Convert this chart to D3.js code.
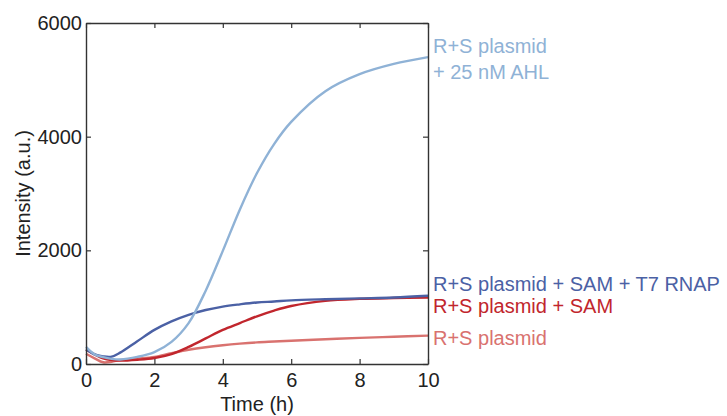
<!DOCTYPE html>
<html>
<head>
<meta charset="utf-8">
<script src="https://cdn.jsdelivr.net/npm/d3@7"></script>
<style>
  html, body { margin: 0; padding: 0; background: #fff; }
  svg { display: block; font-family: "Liberation Sans", Arial, sans-serif; }
</style>
</head>
<body>
<svg id="chart"></svg>
<script>
// time points (h)
const times = [0, 0.25, 0.5, 0.75, 1, 1.5, 2, 2.5, 3, 3.5, 4, 4.5, 5, 5.5, 6, 7, 8, 9, 10];
// intensity (a.u.)
const ahl    = [300, 170, 120, 90, 80, 125, 210, 390, 720, 1290, 1990, 2720, 3360, 3870, 4260, 4800, 5100, 5280, 5400];
const samT7  = [260, 170, 135, 130, 200, 400, 600, 750, 865, 950, 1010, 1050, 1083, 1100, 1120, 1140, 1155, 1170, 1200];
const sam    = [250, 170, 100, 70, 60, 75, 105, 175, 300, 450, 600, 720, 840, 940, 1020, 1110, 1145, 1160, 1170];
const plain  = [180, 100, 30, 40, 70, 95, 125, 190, 250, 295, 330, 358, 380, 395, 410, 435, 460, 480, 500];

const xTicks = [0, 2, 4, 6, 8, 10];
const yTicks = [0, 2000, 4000, 6000];

const width = 727, height = 416;
const marginLeft = 86, marginRight = 299, marginTop = 23, marginBottom = 52;

const svg = d3.select('#chart')
  .attr('width', width)
  .attr('height', height)
  .attr('viewBox', [0, 0, width, height]);

const x = d3.scaleLinear().domain([0, 10]).range([marginLeft, width - marginRight]);
const y = d3.scaleLinear().domain([0, 6000]).range([height - marginBottom, marginTop]);

const series = [
  { values: plain, color: '#d9726f', label: ['R+S plasmid'], ly: 345 },
  { values: sam,   color: '#c1262d', label: ['R+S plasmid + SAM'], ly: 313 },
  { values: samT7, color: '#4b61a5', label: ['R+S plasmid + SAM + T7 RNAP'], ly: 291 },
  { values: ahl,   color: '#8fb2d6', label: ['R+S plasmid', '+ 25 nM AHL'], ly: 53 },
];

const line = d3.line()
  .x((d, i) => x(times[i]))
  .y((d) => y(d))
  .curve(d3.curveCatmullRom.alpha(0.5));

svg.append('g').selectAll('path')
  .data(series)
  .join('path')
  .attr('d', (d) => line(d.values))
  .attr('fill', 'none')
  .attr('stroke', (d) => d.color)
  .attr('stroke-width', 2.4)
  .attr('stroke-linejoin', 'round');

// frame with inward ticks on all sides
const axisColor = '#333';
const fontSize = 20;
const fmt = d3.format('d');

svg.append('g')
  .attr('transform', `translate(0,${height - marginBottom})`)
  .call(d3.axisBottom(x).tickValues(xTicks).tickSize(-5).tickPadding(9).tickSizeOuter(0).tickFormat(fmt));
svg.append('g')
  .attr('transform', `translate(0,${marginTop})`)
  .call(d3.axisTop(x).tickValues(xTicks).tickSize(-5).tickFormat('').tickSizeOuter(0));
svg.append('g')
  .attr('transform', `translate(${marginLeft},0)`)
  .call(d3.axisLeft(y).tickValues(yTicks).tickSize(-5).tickPadding(4).tickSizeOuter(0).tickFormat(fmt));
svg.append('g')
  .attr('transform', `translate(${width - marginRight},0)`)
  .call(d3.axisRight(y).tickValues(yTicks).tickSize(-5).tickFormat('').tickSizeOuter(0));

svg.selectAll('.domain').attr('stroke', axisColor).attr('stroke-width', 1.4);
svg.selectAll('.tick line').attr('stroke', axisColor).attr('stroke-width', 1.2);
svg.selectAll('.tick text')
  .attr('fill', '#222')
  .style('font-size', fontSize + 'px')
  .style('font-family', '"Liberation Sans", Arial, sans-serif');

// axis titles
svg.append('text')
  .attr('x', (x(0) + x(10)) / 2)
  .attr('y', 411)
  .attr('text-anchor', 'middle')
  .attr('fill', '#222')
  .style('font-size', fontSize + 'px')
  .text('Time (h)');

svg.append('text')
  .attr('transform', `translate(30,${(y(0) + y(6000)) / 2}) rotate(-90)`)
  .attr('text-anchor', 'middle')
  .attr('fill', '#222')
  .style('font-size', fontSize + 'px')
  .text('Intensity (a.u.)');

// series labels
series.forEach((s) => {
  const t = svg.append('text')
    .attr('x', 433)
    .attr('y', s.ly)
    .attr('fill', s.color)
    .style('font-size', fontSize + 'px');
  s.label.forEach((l, i) => {
    t.append('tspan').attr('x', 433).attr('dy', i === 0 ? 0 : 26).text(l);
  });
});
</script>
</body>
</html>
